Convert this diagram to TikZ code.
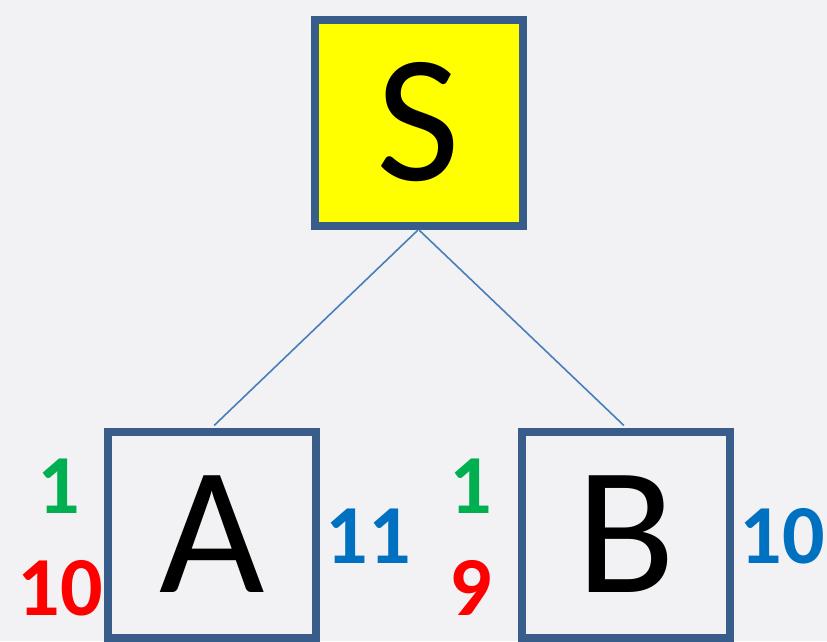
\documentclass[tikz,border=0pt]{standalone}
\usepackage{fontspec}
\setmainfont{Carlito}
\definecolor{bgcol}{RGB}{242,242,245}
\definecolor{boxline}{HTML}{385D8A}
\definecolor{linkcol}{HTML}{4A7EBB}
\definecolor{numgreen}{HTML}{00B050}
\definecolor{numred}{HTML}{FF0000}
\definecolor{numblue}{HTML}{0070C0}
\definecolor{boxyellow}{RGB}{255,255,0}
\tikzset{
  state/.style={draw=boxline,line width=8pt,inner sep=0pt,
    minimum width=208pt,minimum height=206pt,
    font=\fontsize{182}{190}\selectfont},
  num/.style={anchor=base,inner sep=0pt,
    font=\fontsize{84}{90}\selectfont\bfseries},
}
\begin{document}
\begin{tikzpicture}[x=1pt,y=-1pt]
  \fill[bgcol] (0,0) rectangle (827,641);
  \useasboundingbox (0,0) rectangle (827,641);
  \begin{scope}[every node/.style={state}]
  \node[fill=boxyellow] (S) at (418.5,122.5) {S};
  \node[fill=bgcol] (A) at (212,534.5) {A};
  \node[fill=bgcol] (B) at (626,534.5) {B};
  \end{scope}
  \begin{scope}[every edge/.style={draw=linkcol,line width=1.6pt,
      shorten <=1pt,shorten >=3pt}]
  \path (S.south) edge (A.north);
  \path (S.south) edge (B.north);
  \end{scope}
  % numbers beside the boxes
  \node[num,numgreen] (a1) at (59,513) {1};
  \node[num,numred] (a2) at (60,615) {10};
  \node[num,numblue] (a3) at (368,563) {11};
  \node[num,numgreen] (b1) at (471,513) {1};
  \node[num,numred] (b2) at (471,615) {9};
  \node[num,numblue] (b3) at (782,563) {10};
\end{tikzpicture}
\end{document}
